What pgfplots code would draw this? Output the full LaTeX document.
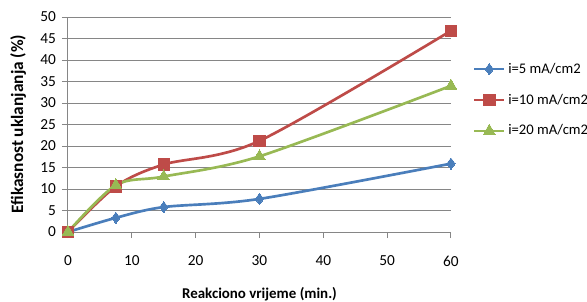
\documentclass[border=0pt]{standalone}
\usepackage{pgfplots}
\pgfplotsset{compat=1.18}
\usepackage{fontspec}
\setmainfont{Carlito}
\definecolor{sblue}{HTML}{4A7EBB}
\definecolor{sred}{HTML}{BE4B48}
\definecolor{sgreen}{HTML}{98B954}
\definecolor{gridc}{HTML}{868686}
\begin{document}
\begin{tikzpicture}
\path[use as bounding box] (-51pt,-51.75pt) rectangle (389.25pt,174pt);
\begin{axis}[
  at={(0,0)}, anchor=south west,
  scale only axis, width=287.25pt, height=161.25pt,
  xmin=0, xmax=60, ymin=0, ymax=50,
  xtick={0,10,...,60}, ytick={0,5,...,50},
  axis x line*=bottom, axis y line*=left,
  axis line style={draw=gridc, line width=0.75pt, -},
  ymajorgrids, grid style={draw=gridc, line width=0.75pt},
  tick align=outside, major tick length=4.5pt,
  tick style={draw=gridc, line width=0.75pt},
  font=\fontsize{11pt}{13pt}\selectfont,
  /pgf/number format/assume math mode=true,
  ticklabel style={font=\fontsize{11.5pt}{13pt}\selectfont},
  xticklabel style={yshift=-10pt},
  yticklabel style={xshift=-1pt},
  xlabel={\textbf{Reakciono vrijeme (min.)}},
  ylabel={\textbf{Efikasnost uklanjanja (\%)}},
  xlabel style={at={(axis description cs:0.5,-0.288)}, anchor=center, font=\fontsize{11.2pt}{13pt}\selectfont},
  ylabel style={at={(axis description cs:-0.13,0.502)}, anchor=center, font=\fontsize{13pt}{15pt}\selectfont},
  clip=false,
  legend style={draw=none, at={(axis description cs:1.0567,0.614)}, anchor=west,
    inner sep=0pt, row sep=10pt, font=\fontsize{11pt}{13pt}\selectfont,
    /tikz/every even column/.append style={column sep=0pt}},
  legend cell align=left,
  legend image code/.code={\draw[#1, mark repeat=2, mark phase=2] plot coordinates {(0pt,0pt) (11.25pt,0pt) (22.5pt,0pt)};},
  every axis plot/.append style={line width=2pt, smooth, tension=0.5},
]
\addplot[sblue, mark=diamond*, mark size=4.2pt, mark options={line width=0pt, fill=sblue}]
  coordinates {(0,0) (7.5,3.3) (15,5.8) (30,7.7) (60,15.9)};
\addlegendentry{i=5 mA/cm2}
\addplot[sred, mark=square*, mark size=4.3pt, mark options={line width=0pt, fill=sred}]
  coordinates {(0,0) (7.5,10.6) (15,15.7) (30,21.2) (60,46.8)};
\addlegendentry{i=10 mA/cm2}
\addplot[sgreen, mark=triangle*, mark size=5pt, mark options={line width=0pt, fill=sgreen}]
  coordinates {(0,0) (7.5,10.9) (15,12.9) (30,17.6) (60,34.0)};
\addlegendentry{i=20 mA/cm2}
\end{axis}
\end{tikzpicture}
\end{document}
